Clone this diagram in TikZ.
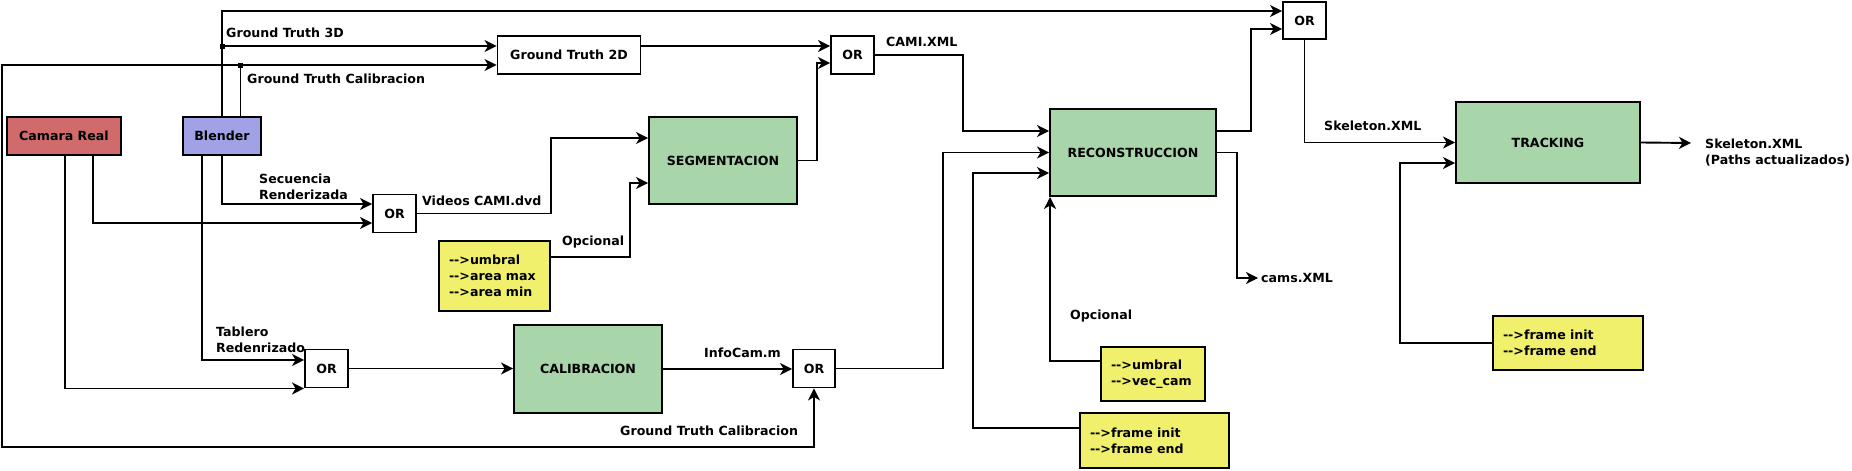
\documentclass[tikz,border=0pt]{standalone}
\usepackage{fontspec}
\setmainfont{DejaVu Sans}
\usepackage{tikz}
\usetikzlibrary{arrows.meta}

\definecolor{camaraRed}{RGB}{209,106,106}
\definecolor{blenderBlue}{RGB}{161,161,230}
\definecolor{stageGreen}{RGB}{168,213,170}
\definecolor{paramYellow}{RGB}{240,240,108}
\newcommand{\optArrow}{-\kern0pt-\kern0pt>}

\begin{document}
\begin{tikzpicture}
[x=1pt,y=-1pt,
every node/.style={font=\fontsize{12.6}{16}\selectfont\bfseries},
edge/.style={line width=1.9pt},
rightEnd/.style={-{Stealth[length=12pt,width=12pt,inset=3.5pt]}},
box/.style={draw,line width=1.9pt,inner sep=0pt},
orGate/.style={box,fill=white,minimum width=43pt,minimum height=38pt},
stageBlock/.style={box,fill=stageGreen},
paramBox/.style={box,fill=paramYellow,align=left,inner xsep=10pt},
flowLabel/.style={anchor=west,inner sep=3pt,align=left},
splitDot/.style={fill,inner sep=0pt,minimum size=5pt}]
\useasboundingbox (0,0) rectangle (1852,471);

\node[box,fill=camaraRed,minimum width=114pt,minimum height=38pt] (camara) at (64,136) {Camara Real}; 
\node[box,fill=blenderBlue,minimum width=78pt,minimum height=38pt] (blender) at (222,136) {Blender}; 
\node[box,fill=white,minimum width=143pt,minimum height=38pt] (gt2d) at (569,55) {Ground Truth 2D}; 
\node[orGate] (or1) at (394.5,213.5) {OR}; 
\node[orGate] (or2) at (852.5,55) {OR}; 
\node[orGate,minimum height=37pt] (or3) at (1304.5,20.5) {OR}; 
\node[orGate] (or4) at (326.5,368.5) {OR}; 
\node[orGate,minimum width=42pt] (or5) at (814,368.5) {OR}; 
\node[stageBlock,minimum width=148pt,minimum height=87pt] (seg) at (723,160.5) {SEGMENTACION}; 
\node[stageBlock,minimum width=166pt,minimum height=87pt] (recon) at (1133,152.5) {RECONSTRUCCION}; 
\node[stageBlock,minimum width=148pt,minimum height=88pt] (calib) at (588,369) {CALIBRACION}; 
\node[stageBlock,minimum width=184pt,minimum height=81pt] (track) at (1548,142.5) {TRACKING}; 
\node[paramBox,text width=91pt,minimum height=70pt] (optSeg) at (494.5,276) {\optArrow umbral\\\optArrow area max\\\optArrow area min}; 
\node[paramBox,text width=84pt,minimum height=54pt] (optRecon) at (1153,374) {\optArrow umbral\\\optArrow vec\_cam}; 
\node[paramBox,text width=129pt,minimum height=55pt] (frameRecon) at (1154.5,440.5) {\optArrow frame init\\\optArrow frame end}; 
\node[paramBox,text width=130pt,minimum height=54pt] (frameTrack) at (1568,343) {\optArrow frame init\\\optArrow frame end}; 

\node[flowLabel] (gt3dLabel) at (223,33) {Ground Truth 3D}; 
\node[flowLabel] (gtCalTopLabel) at (244,79) {Ground Truth Calibracion}; 
\node[flowLabel] (secLabel) at (256,187) {Secuencia\\Renderizada}; 
\node[flowLabel] (videosLabel) at (419,201) {Videos CAMI.dvd}; 
\node[flowLabel] (optSegLabel) at (559,242) {Opcional}; 
\node[flowLabel] (tableroLabel) at (213,340) {Tablero\\Redenrizado}; 
\node[flowLabel] (infoCamLabel) at (701,353) {InfoCam.m}; 
\node[flowLabel] (gtCalBotLabel) at (617,431) {Ground Truth Calibracion}; 
\node[flowLabel] (camiLabel) at (883,42) {CAMI.XML}; 
\node[flowLabel] (optReconLabel) at (1067,316) {Opcional}; 
\node[flowLabel] (skelLabel) at (1321,126) {Skeleton.XML}; 
\node[flowLabel] (camsLabel) at (1258,278) {cams.XML}; 
\node[flowLabel] (skelOutLabel) at (1702,153) {Skeleton.XML\\(Paths actualizados)}; 

\coordinate (loopCorner) at (2,447); 
\coordinate (skelEnd) at (1691,143); 

% ground truth branches from Blender
\draw[edge,rightEnd] (blender.north) |- ([yshift=9.5pt]or3.west); 
\node[splitDot] (split3d) at (222,46) {}; 
\node[splitDot] (splitCal) at (240.5,65) {}; 
\draw[edge,rightEnd] (split3d) -- (split3d -| gt2d.west); 
\draw[edge] ([xshift=18.5pt]blender.north) -- (splitCal); 
\draw[edge,rightEnd] (splitCal) -- (splitCal -| gt2d.west); 
\draw[edge,rightEnd] (splitCal) -| (loopCorner) -| (or5.south); 

% inputs of the OR gates
\draw[edge,rightEnd] (blender.south) |- ([yshift=9.5pt]or1.west); 
\draw[edge,rightEnd] ([xshift=29pt]camara.south) |- ([yshift=-9.5pt]or1.west); 
\draw[edge,rightEnd] ([xshift=-20pt]blender.south) |- ([yshift=8.5pt]or4.west); 
\draw[edge,rightEnd] ([xshift=1pt]camara.south) |- (or4.south west); 

\draw[edge,rightEnd] (or1.east) -- ++(134,0) |- ([yshift=22.5pt]seg.west); 
\draw[edge,rightEnd] ([yshift=19pt]optSeg.east) -- ++(79,0) |- ([yshift=-22.5pt]seg.west); 
\draw[edge,rightEnd] (or4.east) -- (or4.east -| calib.west); 
\draw[edge,rightEnd] (calib.east) -- (calib.east -| or5.west); 
\draw[edge,rightEnd] ([yshift=9pt]gt2d.east) -- ([yshift=9pt]gt2d.east -| or2.west); 
\draw[edge,rightEnd] (seg.east) -- ++(19,0) |- ([yshift=-8pt]or2.west); 

% reconstruccion
\draw[edge,rightEnd] (or2.east) -- ++(88,0) |- ([yshift=21.5pt]recon.west); 
\draw[edge,rightEnd] (or5.east) -- ++(107,0) |- (recon.west); 
\draw[edge,rightEnd] ([yshift=12.5pt]frameRecon.west) -- ++(-106,0) |- ([yshift=-20.5pt]recon.west); 
\draw[edge,rightEnd] ([yshift=13pt]optRecon.west) -| ([xshift=1pt]recon.south west); 
\draw[edge,rightEnd] ([yshift=21.5pt]recon.east) -- ++(34,0) |- ([yshift=-8.5pt]or3.west); 
\draw[edge,rightEnd] (recon.east) -- ++(20,0) |- (camsLabel.west); 

% tracking
\draw[edge,rightEnd] (or3.south) |- (track.west); 
\draw[edge,rightEnd] (frameTrack.west) -- ++(-92,0) |- ([yshift=-20.5pt]track.west); 
\draw[edge,rightEnd] (track.east) -- (skelEnd); 
\end{tikzpicture}
\end{document}
